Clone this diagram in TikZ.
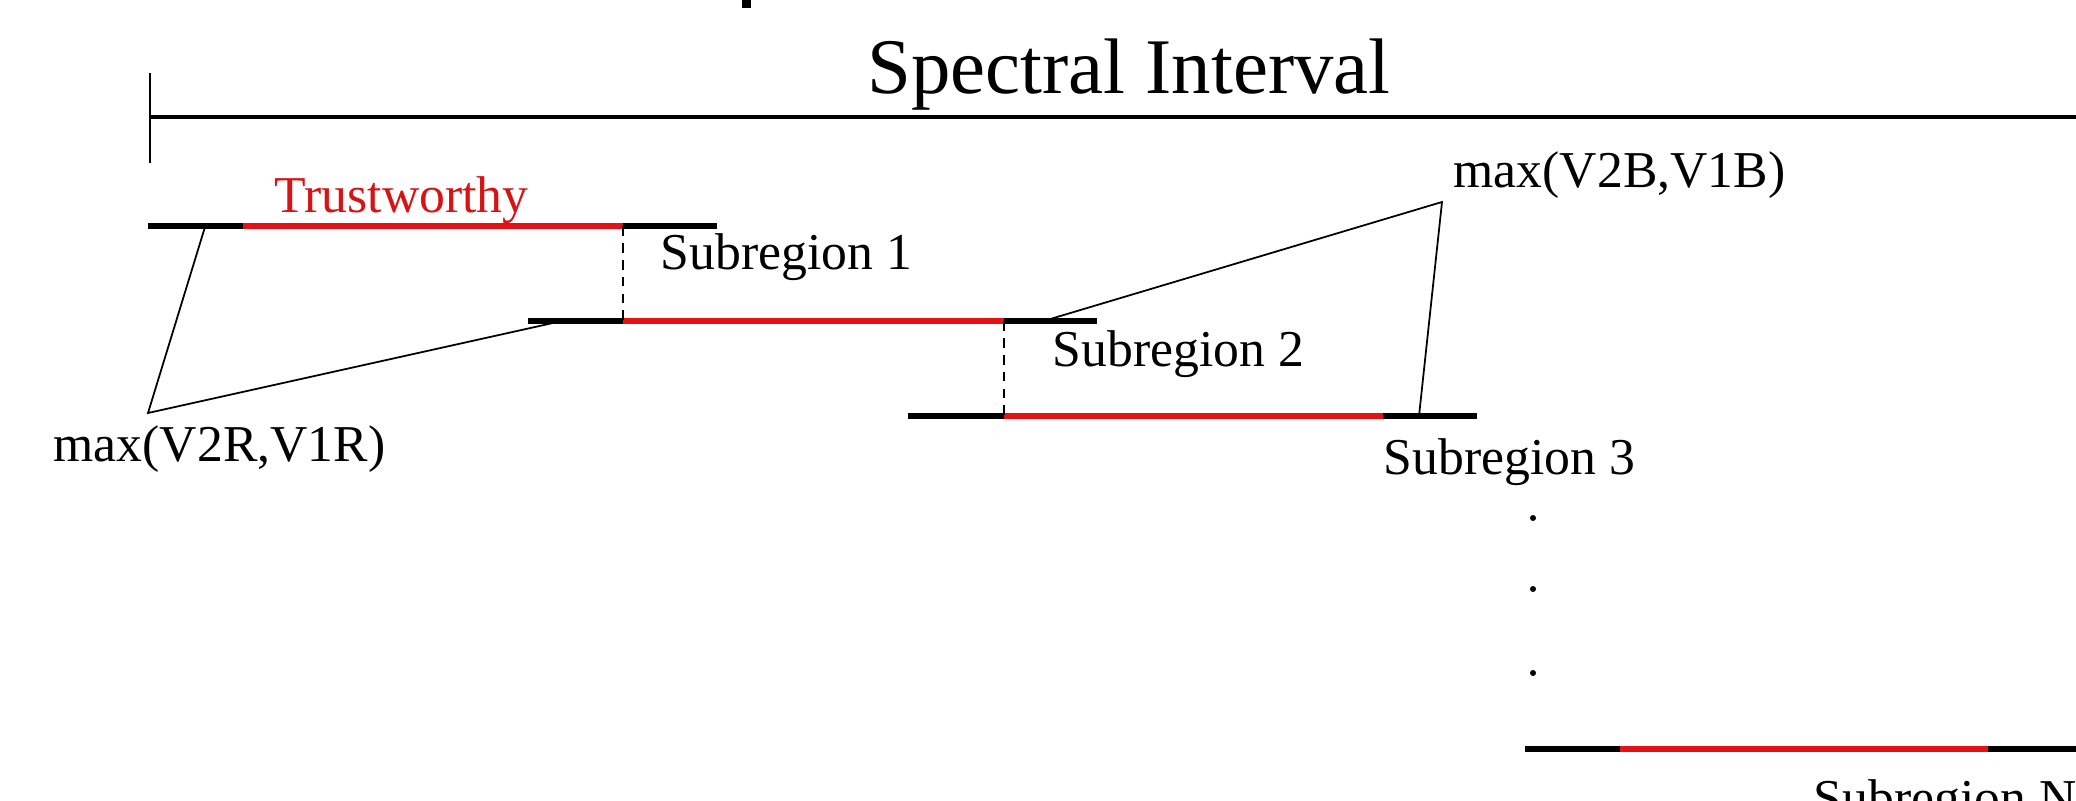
\documentclass[tikz,border=0pt]{standalone}
\usepackage{fontspec}
\setmainfont{Liberation Serif}
\definecolor{trustred}{RGB}{226,18,22}
\definecolor{trusttext}{RGB}{215,20,20}
\begin{document}
\begin{tikzpicture}[x=0.01cm,y=-0.01cm,
  lbl/.style={inner sep=0pt,anchor=base west,font=\fontsize{14.7}{17}\selectfont},
  bigl/.style={inner sep=0pt,anchor=base west,font=\fontsize{22.4}{26}\selectfont},
  seg/.style={line width=1.75pt,line cap=butt},
  blk/.style={seg,black},
  rdl/.style={seg,trustred},
  thin/.style={line width=0.5pt},
  dsh/.style={line width=0.5pt,dash pattern=on 2.8pt off 2pt}]
\useasboundingbox (0,0) rectangle (2076,801);
\clip (0,0) rectangle (2076,801);
\fill[white] (0,0) rectangle (2076,801);

% top mark
\fill[black] (742,0) rectangle (751,8);

% spectral interval axis
\coordinate (axL) at (150,117);
\coordinate (axR) at (2080,117);
\coordinate (tkT) at (150,73);
\coordinate (tkB) at (150,163);
\draw[line width=1.2pt] (axL) -- (axR);
\draw[line width=0.6pt] (tkT) -- (tkB);
\node[bigl] (title) at (867,94) {Spectral Interval};

% subregion 1
\coordinate (s1a) at (148,226);
\coordinate (s1b) at (243,226);
\coordinate (s1c) at (623,226);
\coordinate (s1d) at (717,226);
\draw[blk] (s1a) -- (s1b);
\draw[rdl] (s1b) -- (s1c);
\draw[blk] (s1c) -- (s1d);
\node[lbl,text=trusttext] (trust) at (274,213) {Trustworthy};
\node[lbl] (sub1) at (660,270) {Subregion 1};

% subregion 2
\coordinate (s2a) at (528,321);
\coordinate (s2b) at (623,321);
\coordinate (s2c) at (1004,321);
\coordinate (s2d) at (1097,321);
\draw[blk] (s2a) -- (s2b);
\draw[rdl] (s2b) -- (s2c);
\draw[blk] (s2c) -- (s2d);
\node[lbl] (sub2) at (1052,367) {Subregion 2};

% subregion 3
\coordinate (s3a) at (908,416);
\coordinate (s3b) at (1004,416);
\coordinate (s3c) at (1383,416);
\coordinate (s3d) at (1477,416);
\draw[blk] (s3a) -- (s3b);
\draw[rdl] (s3b) -- (s3c);
\draw[blk] (s3c) -- (s3d);
\node[lbl] (sub3) at (1383,475) {Subregion 3};

% dashed overlaps
\draw[dsh] (s1c) -- (s2b);
\draw[dsh] (s2c) -- (s3b);

% max(V2R,V1R)
\coordinate (rA) at (205,227);
\coordinate (rApex) at (148,413);
\coordinate (rB) at (553,323);
\draw[thin,line join=miter] (rA) -- (rApex) -- (rB);
\node[lbl] (maxR) at (53,462) {max(V2R,V1R)};

% max(V2B,V1B)
\coordinate (bA) at (1047,320);
\coordinate (bApex) at (1442,202);
\coordinate (bB) at (1419,416);
\draw[thin,line join=miter] (bA) -- (bApex) -- (bB);
\node[lbl] (maxB) at (1453,188) {max(V2B,V1B)};

% dots
\fill (1533,518) circle (3);
\fill (1533,589) circle (3);
\fill (1533,673) circle (3);

% subregion N
\coordinate (sNa) at (1525,749);
\coordinate (sNb) at (1620,749);
\coordinate (sNc) at (1988,749);
\coordinate (sNd) at (2080,749);
\draw[blk] (sNa) -- (sNb);
\draw[rdl] (sNb) -- (sNc);
\draw[blk] (sNc) -- (sNd);
\node[lbl] (subN) at (1813,816) {Subregion N};
\end{tikzpicture}
\end{document}
